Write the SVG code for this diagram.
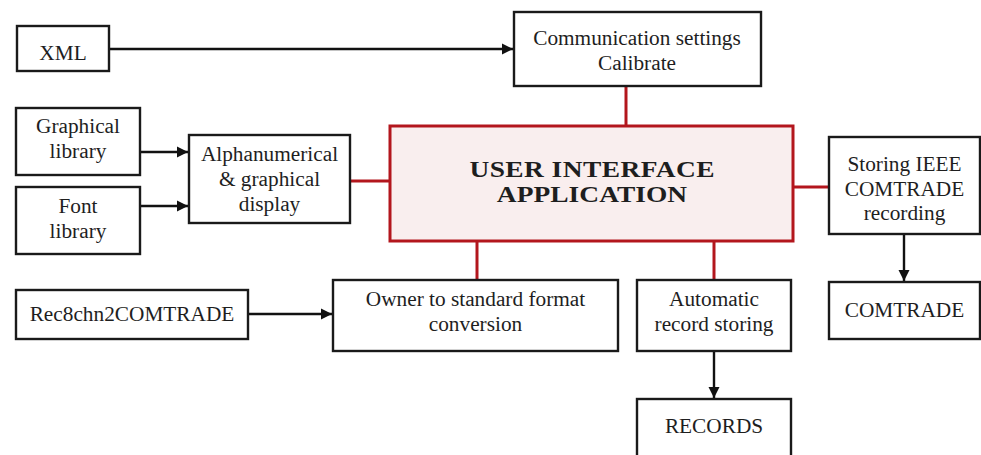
<svg xmlns="http://www.w3.org/2000/svg" width="981" height="455" viewBox="0 0 981 455">
  <style>
    .box { fill: #ffffff; stroke: #1a1a1a; stroke-width: 2.4; }
    .main { fill: #f9eeee; stroke: #b3161d; stroke-width: 3; }
    .t { font-size: 21.3px; fill: #1e1e1e; text-anchor: middle; }
    .tm { font-size: 22.5px; font-weight: bold; fill: #1e1e1e; text-anchor: middle; }
    .arrow { stroke: #111; stroke-width: 2.4; fill: none; marker-end: url(#ah); }
    .red { stroke: #b3161d; stroke-width: 3; fill: none; }
  </style>
  <defs>
    <marker id="ah" markerWidth="12" markerHeight="12" refX="11" refY="6" orient="auto" markerUnits="userSpaceOnUse">
      <path d="M0,0.5 L11,6 L0,11.5 Z" fill="#111"/>
    </marker>
  </defs>
  <rect width="981" height="455" fill="#ffffff"/>

  <g id="connectors">
    <line class="arrow" x1="109" y1="49" x2="513" y2="49"/>
    <line class="arrow" x1="140" y1="152" x2="188" y2="152"/>
    <line class="arrow" x1="140" y1="206" x2="188" y2="206"/>
    <line class="arrow" x1="248" y1="314" x2="332" y2="314"/>
    <line class="arrow" x1="904" y1="234" x2="904" y2="281"/>
    <line class="arrow" x1="714" y1="351" x2="714" y2="398"/>
    <line class="red" x1="626" y1="86" x2="626" y2="126"/>
    <line class="red" x1="350" y1="181" x2="390" y2="181"/>
    <line class="red" x1="793" y1="187" x2="829" y2="187"/>
    <line class="red" x1="477" y1="241" x2="477" y2="280"/>
    <line class="red" x1="714" y1="241" x2="714" y2="280"/>
  </g>

  <g font-family="Liberation Serif, Times New Roman, serif">
    <g id="xml">
      <rect class="box" x="17" y="26" width="92" height="45"/>
      <text class="t" x="63" y="60">XML</text>
    </g>

    <g id="comm">
      <rect class="box" x="514" y="12" width="247" height="74"/>
      <text class="t" x="637" y="45">Communication settings</text>
      <text class="t" x="637" y="70">Calibrate</text>
    </g>

    <g id="graphlib">
      <rect class="box" x="16" y="108" width="124" height="67"/>
      <text class="t" x="78" y="133">Graphical</text>
      <text class="t" x="78" y="158">library</text>
    </g>

    <g id="fontlib">
      <rect class="box" x="16" y="187" width="124" height="67"/>
      <text class="t" x="78" y="213">Font</text>
      <text class="t" x="78" y="238">library</text>
    </g>

    <g id="display">
      <rect class="box" x="189" y="135" width="161" height="88"/>
      <text class="t" x="269.5" y="161">Alphanumerical</text>
      <text class="t" x="269.5" y="186">&amp; graphical</text>
      <text class="t" x="269.5" y="211">display</text>
    </g>

    <g id="app">
      <rect class="main" x="390" y="126" width="403" height="115"/>
      <!-- wide engraved-style caps: horizontally stretched bold serif -->
      <text class="tm" transform="translate(592,177) scale(1.22,1)" x="0" y="0" textLength="201" lengthAdjust="spacing">USER INTERFACE</text>
      <text class="tm" transform="translate(592,202) scale(1.22,1)" x="0" y="0" textLength="156" lengthAdjust="spacing">APPLICATION</text>
    </g>

    <g id="storing">
      <rect class="box" x="829" y="137" width="151" height="97"/>
      <text class="t" x="904.5" y="171">Storing IEEE</text>
      <text class="t" x="904.5" y="196">COMTRADE</text>
      <text class="t" x="904.5" y="220">recording</text>
    </g>

    <g id="comtrade">
      <rect class="box" x="829" y="282" width="151" height="57"/>
      <text class="t" x="904.5" y="317">COMTRADE</text>
    </g>

    <g id="rec8">
      <rect class="box" x="16" y="290" width="232" height="49"/>
      <text class="t" x="132" y="321">Rec8chn2COMTRADE</text>
    </g>

    <g id="owner">
      <rect class="box" x="333" y="280" width="285" height="71"/>
      <text class="t" x="475.5" y="306">Owner to standard format</text>
      <text class="t" x="475.5" y="331">conversion</text>
    </g>

    <g id="auto">
      <rect class="box" x="637" y="280" width="154" height="71"/>
      <text class="t" x="714" y="306">Automatic</text>
      <text class="t" x="714" y="331">record storing</text>
    </g>

    <g id="records">
      <rect class="box" x="637" y="399" width="154" height="70"/>
      <text class="t" x="714" y="433">RECORDS</text>
    </g>
  </g>
</svg>
